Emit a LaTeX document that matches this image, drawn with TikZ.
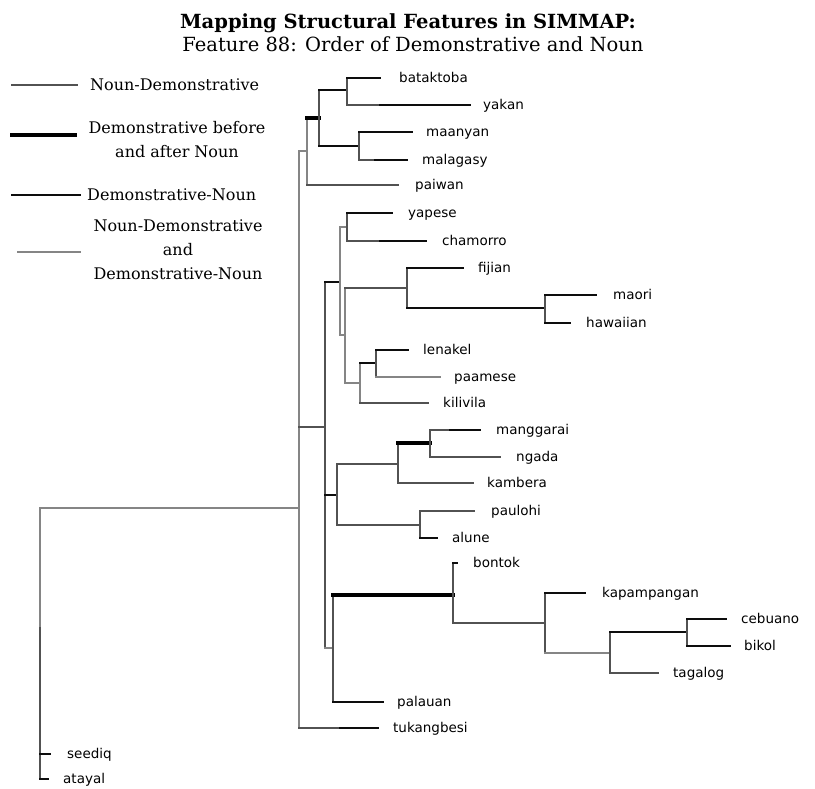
\documentclass[tikz,border=0pt]{standalone}
\usepackage{fontspec}
\setmainfont{DejaVu Serif}
\newfontfamily\leaffont{DejaVu Sans}
\begin{document}
\begin{tikzpicture}[x=1pt,y=-1pt,
  line cap=rect,
  nd/.style={draw=black!68, line width=2.5pt},
  dn/.style={draw=black!95, line width=2.7pt},
  both/.style={draw=black, line width=3.4pt},
  mx/.style={draw=black!48, line width=1.9pt},
  leaf/.style={anchor=base west, inner sep=0pt, font=\leaffont\fontsize{13.5}{16}\selectfont},
  legtext/.style={inner sep=0pt, font=\fontsize{16}{24}\selectfont, align=center},
]
\useasboundingbox (0,0) rectangle (815,789);

% ---- title ----
\node[inner sep=0pt, font=\bfseries\fontsize{19.5}{21}\selectfont] (title) at (408,23) {Mapping Structural Features in SIMMAP:};
\node[inner sep=0pt, font=\fontsize{19.5}{21}\selectfont] (subtitle) at (413,44) {Feature 88: Order of Demonstrative and Noun};

% ---- legend ----
\coordinate (l1a) at (12,85);  \coordinate (l1b) at (77,85);
\coordinate (l2a) at (12,135); \coordinate (l2b) at (75,135);
\coordinate (l3a) at (12,195); \coordinate (l3b) at (80,195);
\coordinate (l4a) at (18,252); \coordinate (l4b) at (80,252);
\draw[nd]   (l1a) -- (l1b);
\draw[both, line width=4.2pt] (l2a) -- (l2b);
\draw[dn]   (l3a) -- (l3b);
\draw[mx]   (l4a) -- (l4b);
\node[legtext, anchor=west] (t1) at (90,85) {Noun-Demonstrative};
\node[legtext] (t2) at (177,140) {Demonstrative before\\and after Noun};
\node[legtext, anchor=west] (t3) at (87,195) {Demonstrative-Noun};
\node[legtext] (t4) at (178,250) {Noun-Demonstrative\\and\\Demonstrative-Noun};

% ---- tips (end of each terminal branch) and labels ----
\foreach \n/\x/\y/\lx in {
  bataktoba/380/78/399, yakan/470/105/483, maanyan/412/132/426,
  malagasy/407/160/422, paiwan/398/185/415, yapese/392/213/408,
  chamorro/426/241/442, fijian/463/268/478, maori/596/295/613,
  hawaiian/570/323/586, lenakel/408/350/423, paamese/440/377/454,
  kilivila/428/403/443, manggarai/480/430/496, ngada/500/457/516,
  kambera/473/483/487, paulohi/474/511/491, alune/437/538/452,
  bontok/457/563/473, kapampangan/585/593/602, cebuano/726/619/741,
  bikol/730/646/744, tagalog/658/673/673, palauan/383/702/397,
  tukangbesi/378/728/393, seediq/50/754/67, atayal/48/779/63}
{
  \coordinate (\n) at (\x,\y);
  \node[leaf] (\n-lab) at (\lx,\y+4.5) {\n};
}

% ---- internal nodes (x of the vertical bar, y of its midpoint) ----
\coordinate (root)   at (40,508);
\coordinate (ingrp)  at (299,508);
\coordinate (ccW)    at (307,151);
\coordinate (cBM)    at (319,118);
\coordinate (cBY)    at (347,90);
\coordinate (cMM)    at (359,146);
\coordinate (cMid)   at (325,427);
\coordinate (cA)     at (340,282);
\coordinate (cYC)    at (347,227);
\coordinate (cB)     at (345,335);
\coordinate (cF)     at (407,288);
\coordinate (cMH)    at (545,308);
\coordinate (cL)     at (360,383);
\coordinate (cLP)    at (376,363);
\coordinate (cC)     at (337,495);
\coordinate (cMK)    at (398,464);
\coordinate (cMN)    at (430,443);
\coordinate (cPA)    at (420,525);
\coordinate (cP)     at (333,648);
\coordinate (cBo)    at (453,595);
\coordinate (cKa)    at (545,623);
\coordinate (cT)     at (610,653);
\coordinate (cCB)    at (687,632);
\coordinate (cSA)    at (40,628);

% ---- root and outgroup ----
\draw[mx] (root) -- (ingrp);
\draw[mx] (root) -- (cSA);
\draw[nd] (cSA) -- (root |- atayal);
\draw[mx] (ingrp |- ccW) -- (ingrp |- tukangbesi);
\draw[dn] (root |- seediq) -- (seediq);
\draw[dn] (root |- atayal) -- (atayal);

% ---- first clade ----
\draw[mx] (ingrp |- ccW) -- (ccW);
\draw[mx] (ccW |- cBM) -- (ccW |- paiwan);
\draw[nd] (ccW |- paiwan) -- (paiwan);
\draw[both] (ccW |- cBM) -- (cBM);
\draw[nd] (cBM |- cBY) -- (cBM |- cMM);
\draw[dn] (cBM |- cBY) -- (cBY);
\draw[dn] (cBM |- cMM) -- (cMM);
\draw[nd] (cBY |- bataktoba) -- (cBY |- yakan);
\draw[dn] (cBY |- bataktoba) -- (bataktoba);
\draw[nd] (cBY |- yakan) -- ++(33,0);
\draw[dn] (cBY |- yakan) ++(33,0) -- (yakan);
\draw[nd] (cMM |- maanyan) -- (cMM |- malagasy);
\draw[dn] (cMM |- maanyan) -- (maanyan);
\draw[nd] (cMM |- malagasy) -- ++(16,0);
\draw[dn] (cMM |- malagasy) ++(16,0) -- (malagasy);

% ---- middle clade ----
\draw[nd] (ingrp |- cMid) -- (cMid);
\draw[nd] (cMid |- cA) -- (cMid |- cP);
\draw[dn] (cMid |- cA) -- (cA);
\draw[mx] (cA |- cYC) -- (cA |- cB);
\draw[mx] (cA |- cYC) -- (cYC);
\draw[nd] (cYC |- yapese) -- (cYC |- chamorro);
\draw[dn] (cYC |- yapese) -- (yapese);
\draw[nd] (cYC |- chamorro) -- ++(33,0);
\draw[dn] (cYC |- chamorro) ++(33,0) -- (chamorro);
\draw[mx] (cA |- cB) -- (cB);
\draw[mx] (cB |- cF) -- (cB |- cL);
\draw[nd] (cB |- cF) -- (cF);
\draw[nd] (cF |- fijian) -- (cF |- cMH);
\draw[dn] (cF |- fijian) -- (fijian);
\draw[dn] (cF |- cMH) -- (cMH);
\draw[nd] (cMH |- maori) -- (cMH |- hawaiian);
\draw[dn] (cMH |- maori) -- (maori);
\draw[dn] (cMH |- hawaiian) -- (hawaiian);
\draw[mx] (cB |- cL) -- (cL);
\draw[mx] (cL |- cLP) -- (cL |- kilivila);
\draw[dn] (cL |- cLP) -- (cLP);
\draw[nd] (cLP |- lenakel) -- (cLP |- paamese);
\draw[dn] (cLP |- lenakel) -- (lenakel);
\draw[mx] (cLP |- paamese) -- (paamese);
\draw[nd] (cL |- kilivila) -- (kilivila);

% ---- lower clade ----
\draw[dn] (cMid |- cC) -- (cC);
\draw[nd] (cC |- cMK) -- (cC |- cPA);
\draw[nd] (cC |- cMK) -- (cMK);
\draw[nd] (cMK |- cMN) -- (cMK |- kambera);
\draw[both] (cMK |- cMN) -- (cMN);
\draw[nd] (cMN |- manggarai) -- (cMN |- ngada);
\draw[nd] (cMN |- manggarai) -- ++(20,0);
\draw[dn] (cMN |- manggarai) ++(20,0) -- (manggarai);
\draw[nd] (cMN |- ngada) -- (ngada);
\draw[nd] (cMK |- kambera) -- (kambera);
\draw[nd] (cC |- cPA) -- (cPA);
\draw[nd] (cPA |- paulohi) -- (cPA |- alune);
\draw[nd] (cPA |- paulohi) -- (paulohi);
\draw[dn] (cPA |- alune) -- (alune);

% ---- philippine clade and palauan ----
\draw[mx] (cMid |- cP) -- (cP);
\draw[nd] (cP |- cBo) -- (cP |- palauan);
\draw[both] (cP |- cBo) -- (cBo);
\draw[dn] (cP |- palauan) -- (palauan);
\draw[nd] (cBo |- bontok) -- (cBo |- cKa);
\draw[dn] (cBo |- bontok) -- (bontok);
\draw[nd] (cBo |- cKa) -- (cKa);
\draw[nd] (cKa |- kapampangan) -- (cKa |- cT);
\draw[dn] (cKa |- kapampangan) -- (kapampangan);
\draw[mx] (cKa |- cT) -- (cT);
\draw[nd] (cT |- cCB) -- (cT |- tagalog);
\draw[dn] (cT |- cCB) -- (cCB);
\draw[nd] (cT |- tagalog) -- (tagalog);
\draw[nd] (cCB |- cebuano) -- (cCB |- bikol);
\draw[dn] (cCB |- cebuano) -- (cebuano);
\draw[dn] (cCB |- bikol) -- (bikol);

% ---- tukangbesi ----
\draw[nd] (ingrp |- tukangbesi) -- ++(41,0);
\draw[dn] (ingrp |- tukangbesi) ++(41,0) -- (tukangbesi);
\end{tikzpicture}
\end{document}
